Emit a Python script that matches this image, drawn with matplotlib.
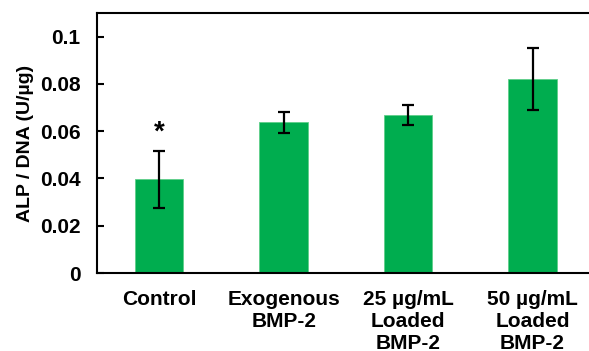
import matplotlib.pyplot as plt

plt.rcParams["font.family"] = ["Liberation Sans", "DejaVu Sans"]
plt.rcParams["font.weight"] = "bold"

groups = ["Control", "Exogenous\nBMP-2", "25 µg/mL\nLoaded\nBMP-2", "50 µg/mL\nLoaded\nBMP-2"]
alp_dna = [0.0397, 0.0638, 0.0668, 0.0821]
sd = [0.0121, 0.0045, 0.0042, 0.0132]
yticks = [0, 0.02, 0.04, 0.06, 0.08, 0.1]
ytick_labels = ["0", "0.02", "0.04", "0.06", "0.08", "0.1"]


def main() -> None:
    fig = plt.figure(figsize=(5.89, 3.51), dpi=100)
    ax = fig.add_axes([0.1647, 0.222, 0.845, 0.741])

    x = range(len(groups))
    ax.bar(x, alp_dna, width=0.39, color="#00AD4F", edgecolor="#5FCF8A", linewidth=0.6)
    ax.errorbar(x, alp_dna, yerr=sd, fmt="none", ecolor="black", elinewidth=1.6,
                capsize=4, capthick=1.6)
    # significance marker over the control bar
    ax.text(0, alp_dna[0] + sd[0] + 0.0022, "*", ha="center", va="bottom",
            fontsize=20, fontweight="bold")

    ax.set_xlim(-0.5, 3.5)
    ax.set_ylim(0, 0.11)
    ax.set_yticks(yticks)
    ax.set_yticklabels(ytick_labels)
    ax.set_xticks(list(x))
    ax.set_xticklabels(groups, fontsize=15, fontweight="bold", linespacing=1.2)
    ax.tick_params(axis="x", length=0, pad=12)
    ax.tick_params(axis="y", direction="in", length=5, width=1.5, labelsize=15, pad=12)
    ax.set_ylabel("ALP / DNA (U/µg)", fontsize=14, fontweight="bold", labelpad=4)
    for spine in ax.spines.values():
        spine.set_linewidth(1.5)

    fig.savefig("out.png", dpi=100)
    plt.close(fig)


if __name__ == "__main__":
    main()
